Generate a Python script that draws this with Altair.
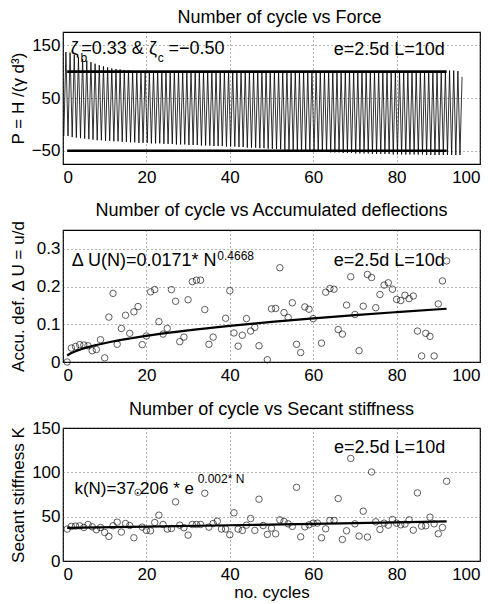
import altair as alt
import pandas as pd

FONT = "Liberation Sans"

# ---------------- data: panel 1 (force history) ----------------
# peak value of every load cycle (cycle 1 .. 96)
force_peaks = ([137, 136, 132, 128, 124, 121, 118, 115, 112, 110,
                108, 106, 105, 104, 103, 102, 101]
               + [100] * 75
               + [102, 102, 101, 90])
# trough value of every load cycle (cycle 1 .. 95)
force_troughs = [-22, -24, -25, -26, -27, -28, -29, -30, -30, -31,
                 -31, -32, -32, -33, -33, -34, -34, -35, -35, -35,
                 -36, -36, -36, -37, -37, -37, -38, -38, -38, -39,
                 -39, -39, -40, -40, -40, -41, -41, -41, -42, -42,
                 -42, -43, -43, -44, -44, -44, -45, -45, -46, -46,
                 -47, -47, -48, -48, -49, -49, -50, -50, -51, -51,
                 -52, -52, -52, -53, -53, -53, -54, -54, -54, -55,
                 -55, -55, -55, -56, -56, -56, -56, -56, -57, -57,
                 -57, -57, -57, -57, -57, -57, -58, -58, -58, -58,
                 -58, -58, -58, -58, -58]
force_start = -22
level_values = [100, -50]
level_span = [1, 92]

# ---------------- data: panel 2 (accumulated deflection) ----------------
du_cycles = [1, 2, 3, 4, 5, 6, 7, 8, 9, 10, 11, 12, 13, 14, 15, 16, 17, 18, 19, 20,
             21, 22, 23, 24, 25, 26, 27, 28, 29, 30, 31, 32, 33, 34, 35, 36,
             39, 40, 41, 42, 43, 44, 45, 46, 47,
             49, 50, 51, 52, 53, 54, 55, 56, 57, 58, 59, 60,
             62, 63, 64, 65, 66, 67, 68, 69, 70, 71, 72, 73, 74, 75, 76, 77, 78, 79, 80,
             81, 82, 83, 84, 85, 86, 87, 88, 89, 90, 91, 92]
du_values = [0.000, 0.037, 0.041, 0.046, 0.045, 0.043, 0.030, 0.033, 0.059, 0.011,
             0.119, 0.182, 0.047, 0.089, 0.124, 0.076, 0.133, 0.147, 0.046, 0.069,
             0.186, 0.192, 0.107, 0.074, 0.089, 0.192, 0.161, 0.054, 0.066, 0.165,
             0.213, 0.217, 0.217, 0.139, 0.047, 0.066,
             0.116, 0.189, 0.077, 0.042, 0.071, 0.115, 0.082, 0.092, 0.043,
             0.006, 0.141, 0.142, 0.250, 0.131, 0.118, 0.157, 0.047, 0.025, 0.146, 0.140, 0.115,
             0.050, 0.185, 0.195, 0.193, 0.086, 0.074, 0.151, 0.226, 0.126, 0.030,
             0.148, 0.232, 0.224, 0.144, 0.179, 0.204, 0.210, 0.193, 0.166, 0.163,
             0.177, 0.168, 0.175, 0.082, 0.016, 0.076, 0.068, 0.016, 0.154, 0.215, 0.268]
du_fit_cycles = [1, 2, 3, 4, 6, 8, 11, 16, 22, 30, 40, 50, 60, 70, 80, 92]
du_fit_values = [0.0171, 0.0236, 0.0286, 0.0326, 0.0395, 0.0451, 0.0524, 0.0623,
                 0.0724, 0.0837, 0.0957, 0.1062, 0.1156, 0.1243, 0.1322, 0.1412]

# ---------------- data: panel 3 (secant stiffness) ----------------
k_cycles = list(range(1, 93))
k_values = [36, 39, 39.3, 39.7, 37.8, 41.2, 38.6, 35.2, 37.8, 32.2,
            27.7, 39.7, 43.8, 32.6, 42.3, 40, 26.2, 77.5, 38.2, 34.5,
            34, 43.4, 51.7, 41.2, 36, 36.7, 66.7, 40.4, 37.5, 29.2,
            41.2, 41.2, 41.2, 76.4, 38.2, 42.3, 44.9, 36, 36, 29.6,
            54.3, 36, 34.5, 40.4, 47.9, 34.5, 69.7, 40, 30, 37,
            30.7, 46.4, 44.6, 41.9, 39, 83.1, 27.3, 38.6, 40.8, 42.7,
            42.7, 26.2, 36.3, 45.7, 45.7, 70.4, 24.3, 34.1, 115.7, 41.9,
            28.1, 56.2, 27, 100.4, 44.2, 35.6, 42.7, 40.4, 46.8, 42.7,
            40.8, 41.6, 46.4, 34.8, 76.8, 39.3, 39.7, 49.4, 41.9, 30.7,
            37.8, 89.9]
k_fit_cycles = [1, 20, 40, 60, 80, 92]
k_fit_values = [37.28, 38.72, 40.30, 41.95, 43.67, 44.72]

# ---------------- annotations (text, x, y in data units, font size, align) ----------------
ann1_text = ["ζ", "b", "=0.33 & ζ", "c", "=−0.50", "e=2.5d L=10d"]
ann1_x = [1.85, 4.2, 22.5, 22.7, 25.3, 64.9]
ann1_y = [134, 118, 134, 118, 134, 131]
ann1_size = [18, 12, 18, 12, 18, 18]
ann1_align = ["left", "left", "right", "left", "left", "left"]

ann2_text = ["Δ U(N)=0.0171* N", "0.4668", "e=2.5d L=10d"]
ann2_x = [36.8, 37.0, 64.9]
ann2_y = [0.2535, 0.271, 0.2535]
ann2_size = [18, 12, 18]
ann2_align = ["right", "left", "left"]

ann3_text = ["k(N)=37.206 * e", "0.002* N", "e=2.5d L=10d"]
ann3_x = [31.4, 32.3, 65.0]
ann3_y = [76, 87.6, 121.3]
ann3_size = [17, 12, 18]
ann3_align = ["right", "left", "left"]

titles = ["Number of cycle vs Force",
          "Number of cycle vs Accumulated deflections",
          "Number of cycle vs Secant stiffness"]
y_titles = ["P = H /(γ d³)", "Accu. def. Δ U = u/d", "Secant stiffness K"]
x_title = "no. cycles"
x_ticks = [0, 20, 40, 60, 80, 100]

# ---------------- build tables ----------------
rows = [{"t": 0.2, "p": force_start, "i": 0}]
idx = 1
for c in range(1, len(force_peaks) + 1):
    rows.append({"t": c - 0.3, "p": force_peaks[c - 1], "i": idx}); idx += 1
    if c <= len(force_troughs):
        rows.append({"t": c + 0.2, "p": force_troughs[c - 1], "i": idx}); idx += 1
df_force = pd.DataFrame(rows)
df_levels = pd.DataFrame([{"t": s, "p": v, "g": str(v)} for v in level_values for s in level_span])

df_du = pd.DataFrame({"n": du_cycles, "u": du_values})
df_du_fit = pd.DataFrame({"n": du_fit_cycles, "u": du_fit_values})
df_k = pd.DataFrame({"n": k_cycles, "k": k_values})
df_k_fit = pd.DataFrame({"n": k_fit_cycles, "k": k_fit_values})

W, H = 417, 132


def xenc(field, show_title=False):
    return alt.X(f"{field}:Q",
                 scale=alt.Scale(domain=[0, 100], nice=False, zero=False),
                 axis=alt.Axis(values=x_ticks, title=x_title if show_title else None,
                               titlePadding=2))


def annotations(texts, xs, ys, sizes, aligns, xfield, yfield):
    layers = []
    for al in ("left", "right"):
        sel = [i for i, a in enumerate(aligns) if a == al]
        if not sel:
            continue
        df = pd.DataFrame({xfield: [xs[i] for i in sel], yfield: [ys[i] for i in sel],
                           "txt": [texts[i] for i in sel], "fs": [sizes[i] for i in sel]})
        layers.append(alt.Chart(df).mark_text(align=al, baseline="alphabetic", font=FONT,
                                              color="black").encode(
            x=f"{xfield}:Q", y=f"{yfield}:Q", text="txt:N",
            size=alt.Size("fs:Q", scale=None, legend=None)))
    return layers


def title(t, offset, dx=0):
    return alt.TitleParams(t, fontSize=18, fontWeight="normal", font=FONT,
                           color="black", offset=offset, dx=dx)


# panel 1
y1 = alt.Y("p:Q", scale=alt.Scale(domain=[-75, 175], nice=False, zero=False),
           axis=alt.Axis(values=[-50, 0, 50, 100, 150], title=y_titles[0]))
p1 = alt.layer(
    alt.Chart(df_force).mark_line(color="black", strokeWidth=0.8).encode(
        x=xenc("t"), y=y1, order="i:Q"),
    alt.Chart(df_levels).mark_line(color="black", strokeWidth=2.6).encode(
        x="t:Q", y="p:Q", detail="g:N"),
    *annotations(ann1_text, ann1_x, ann1_y, ann1_size, ann1_align, "t", "p"),
).properties(width=W, height=H, title=title(titles[0], 5, dx=8))

# panel 2
y2 = alt.Y("u:Q", scale=alt.Scale(domain=[0, 0.35], nice=False),
           axis=alt.Axis(values=[0, 0.1, 0.2, 0.3], format="~g", title=y_titles[1]))
p2 = alt.layer(
    alt.Chart(df_du).mark_point(shape="circle", filled=False, color="black",
                                size=42, strokeWidth=0.9).encode(x=xenc("n"), y=y2),
    alt.Chart(df_du_fit).mark_line(color="black", strokeWidth=2.2,
                                   interpolate="monotone").encode(x="n:Q", y="u:Q"),
    *annotations(ann2_text, ann2_x, ann2_y, ann2_size, ann2_align, "n", "u"),
).properties(width=W, height=H, title=title(titles[1], 0))

# panel 3
y3 = alt.Y("k:Q", scale=alt.Scale(domain=[0, 150], nice=False),
           axis=alt.Axis(values=[0, 50, 100, 150], title=y_titles[2]))
p3 = alt.layer(
    alt.Chart(df_k).mark_point(shape="circle", filled=False, color="black",
                               size=42, strokeWidth=0.9).encode(x=xenc("n", True), y=y3),
    alt.Chart(df_k_fit).mark_line(color="black", strokeWidth=2.2,
                                  interpolate="monotone").encode(x="n:Q", y="k:Q"),
    *annotations(ann3_text, ann3_x, ann3_y, ann3_size, ann3_align, "n", "k"),
).properties(width=W, height=H + 1, title=title(titles[2], 0))

chart = alt.vconcat(p1, p2, p3, spacing=66, bounds="flush", background="white",
                    padding=0).configure_view(
    stroke="black", strokeWidth=1.2
).configure_axis(
    grid=True, gridColor="#444", gridDash=[1, 3], gridWidth=0.8, gridOpacity=1,
    ticks=False, domain=False,
    labelFont=FONT, labelFontSize=17, labelColor="black", labelPadding=5,
    titleFont=FONT, titleFontSize=17, titleFontWeight="normal", titleColor="black",
).configure_axisY(
    titleX=-36, labelPadding=3
)

chart.save("out.html", embed_options={"renderer": "svg", "actions": False})
